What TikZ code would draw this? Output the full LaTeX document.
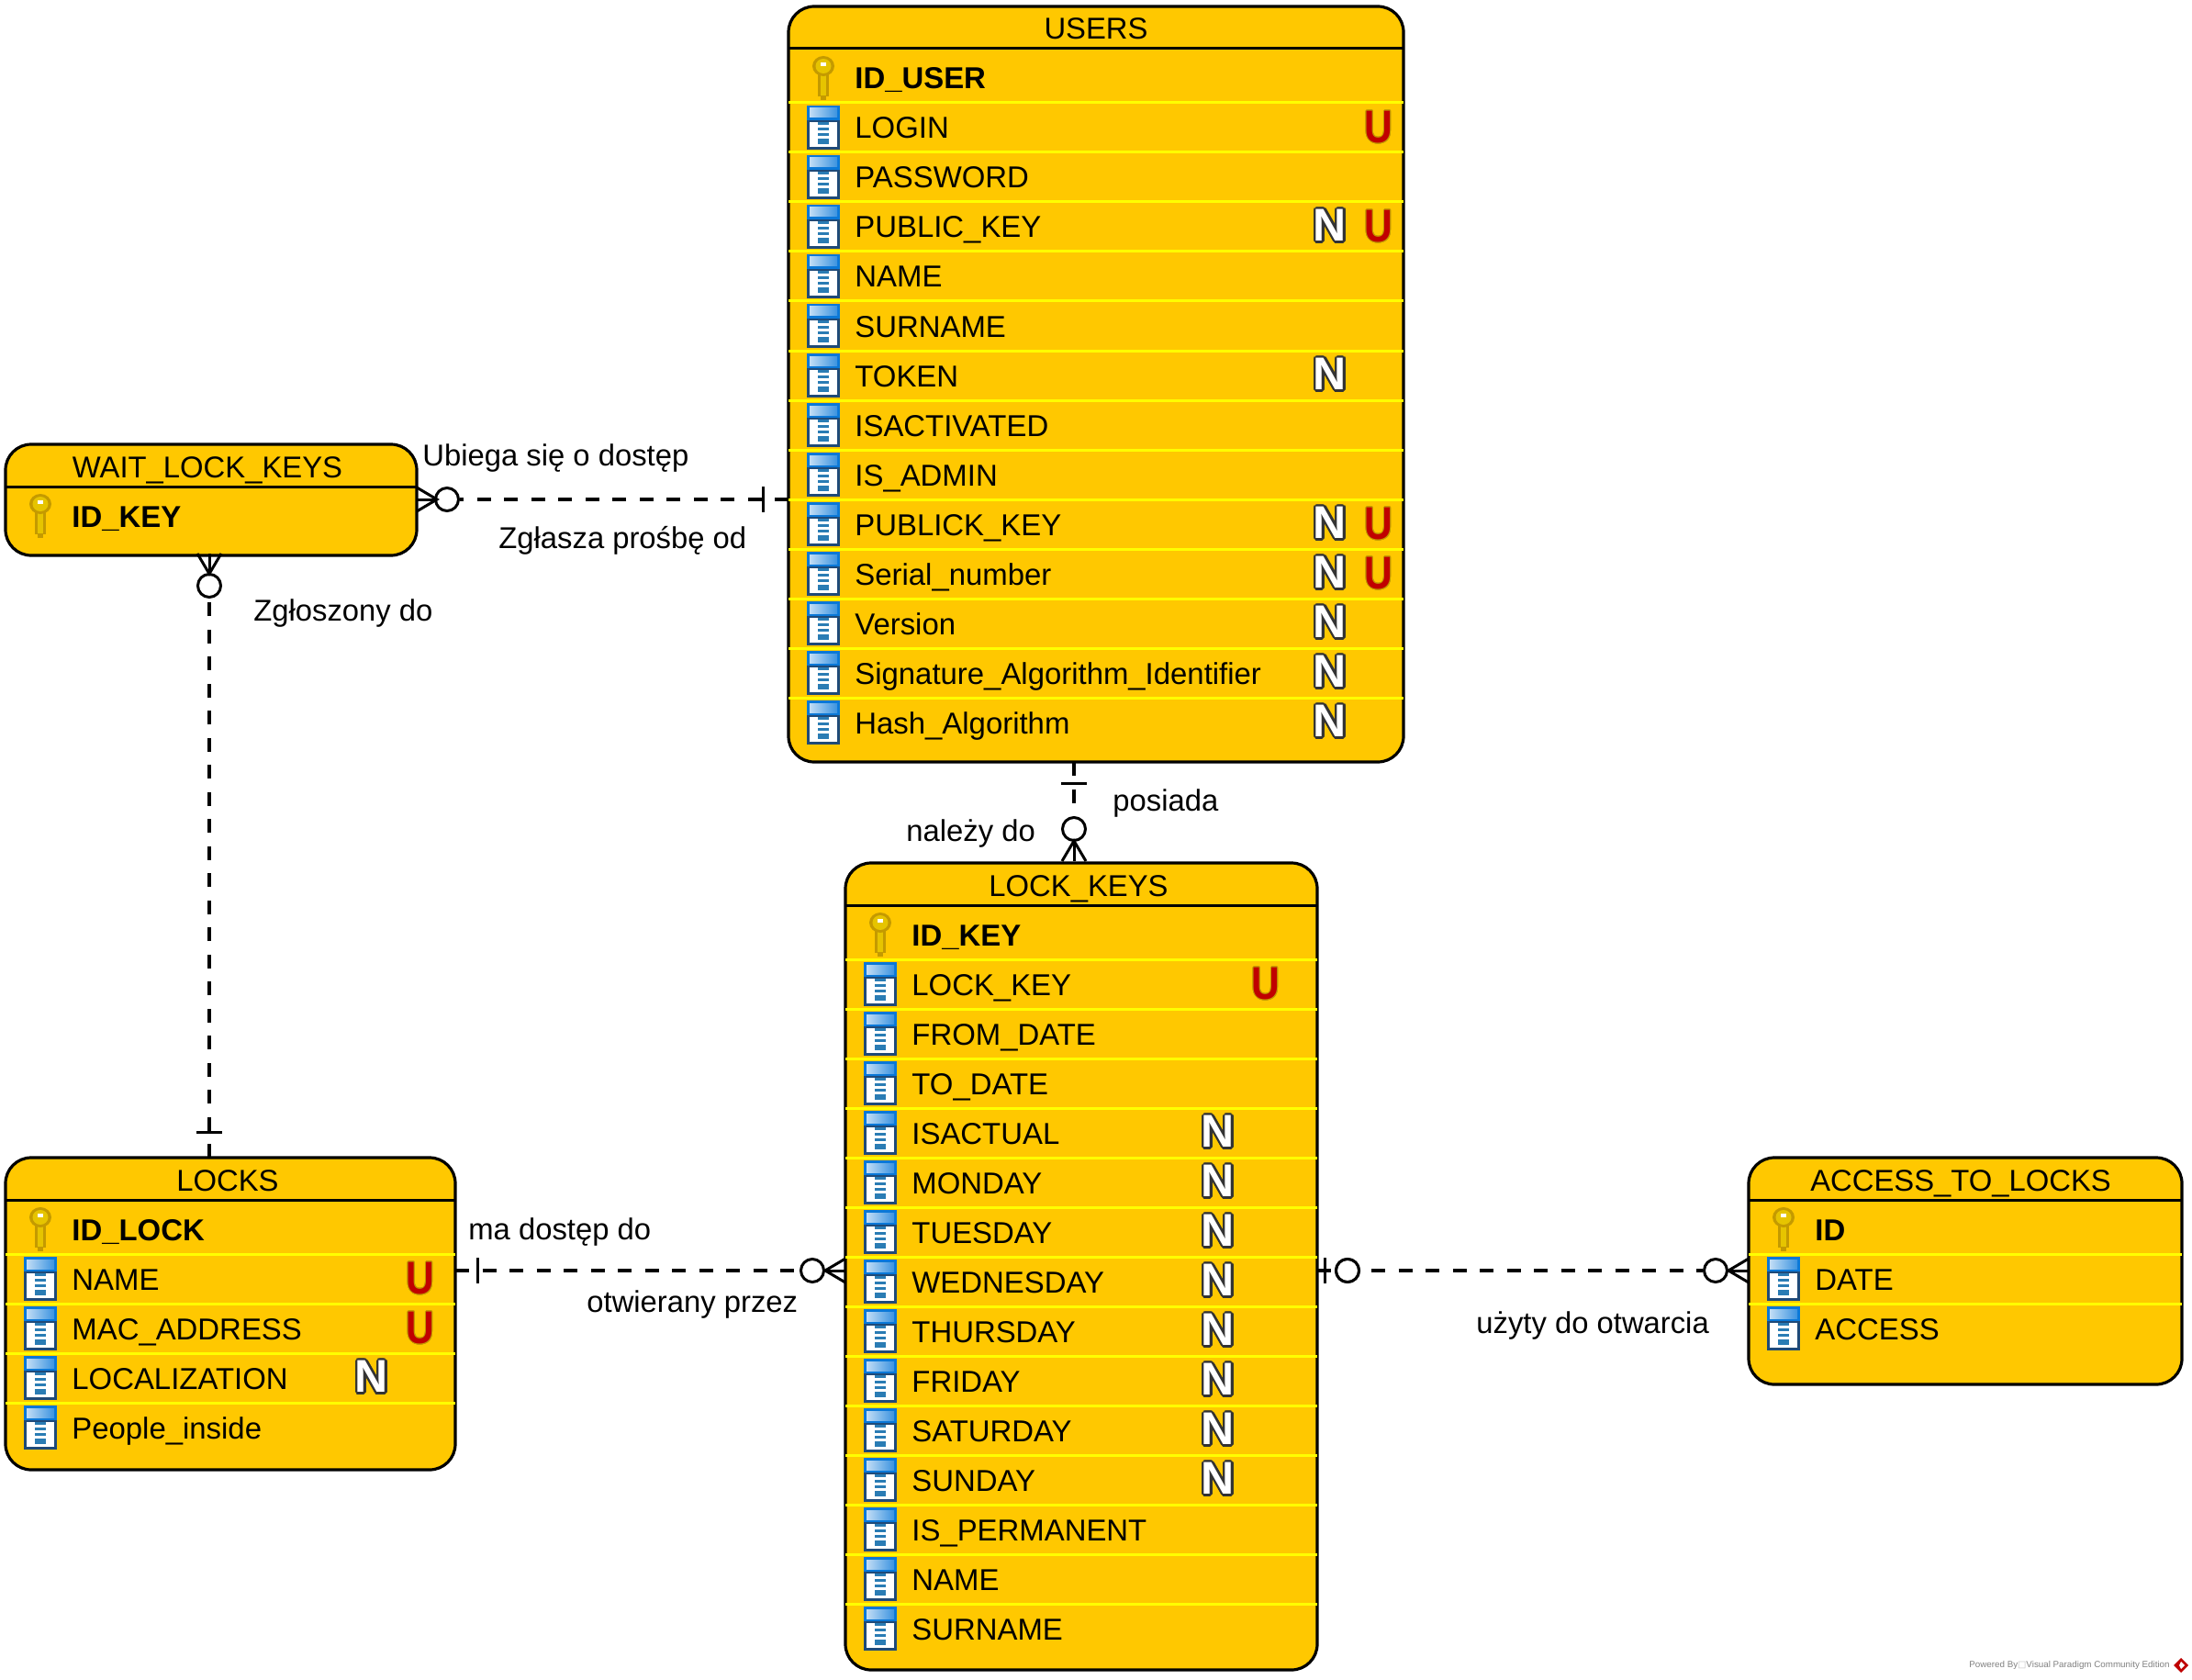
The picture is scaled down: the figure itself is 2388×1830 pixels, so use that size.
\documentclass[tikz,border=0pt]{standalone}
\usepackage{fontspec}
\setmainfont{Liberation Sans}
\newfontfamily\symbfont{DejaVu Sans}
\usepackage[copies]{contour}
\usetikzlibrary{calc}

\definecolor{boxfill}{HTML}{FFC800}
\definecolor{rowline}{HTML}{FFFF00}
\definecolor{colblue}{HTML}{0A78D8}
\definecolor{colnavy}{HTML}{1F4A78}
\definecolor{coldash}{HTML}{2A7CB4}
\definecolor{keygold}{HTML}{E6C400}
\definecolor{keyedge}{HTML}{C49A00}
\definecolor{flagred}{HTML}{C00000}

\newcommand{\nflag}{\contourlength{1.25pt}\contour{black!80}{N}}
\newcommand{\uflag}{\contourlength{.5pt}\scalebox{.85}[1]{\contour{keyedge}{U}}}

\tikzset{
    erbox/.style={draw, line width=1.6pt, fill=boxfill, rounded corners=14pt, inner sep=0pt, outer sep=0pt},
    headline/.style={draw, line width=1.5pt},
    rowsep/.style={draw=rowline, line width=1.5pt},
    titletext/.style={anchor=base, inner sep=0pt, font=\fontsize{16.4pt}{18pt}\selectfont},
    rowtext/.style={anchor=base west, inner sep=0pt, font=\fontsize{16.45pt}{18pt}\selectfont},
    keytext/.style={rowtext, font=\fontsize{16.45pt}{18pt}\selectfont\bfseries},
    reltext/.style={anchor=base west, inner sep=0pt, font=\fontsize{16.4pt}{18pt}\selectfont},
    nmark/.style={inner sep=0pt, text=white, font=\fontsize{25pt}{26pt}\selectfont\bfseries},
    umark/.style={inner sep=0pt, text=flagred, font=\fontsize{25pt}{26pt}\selectfont\bfseries},
    rel/.style={line width=1.6pt, dash pattern=on 7.5pt off 7.25pt},
    zeroring/.style={circle, draw, fill=white, line width=1.5pt, inner sep=0pt, minimum size=12.5pt},
    colicon/.pic={
        \fill[colnavy] (-18,-24) rectangle (18,24);
        \fill[colblue] (-18,-24) rectangle (18,-8);
        \shade[left color=colblue!25, right color=colblue!80] (-15,-21) rectangle (15,-11);
        \fill[white] (-15,-6) rectangle (15,21);
        \fill[coldash] (-6,-6) rectangle (6,-3);
        \fill[coldash] (-6,0) rectangle (6,3);
        \fill[coldash] (-6,6) rectangle (6,9);
        \fill[coldash] (-6,12) rectangle (6,18);
    },
    keyicon/.pic={
        \fill[keyedge] (-6,-6) rectangle (6,20);
        \fill[keyedge] (-3,20) rectangle (3,24);
        \fill[keygold] (-3,-6) rectangle (3,19);
        \fill[keyedge] (0,-13) ellipse [x radius=12, y radius=11];
        \fill[keygold] (0,-13) ellipse [x radius=8.5, y radius=8];
        \fill[white] (-3,-17) rectangle (3,-13);
    },
    crowfoot/.pic={
        \draw[line width=1.5pt] (22,-13) -- (0,0) -- (22,13);
        \draw[line width=1.5pt] (0,0) -- (22,0);
    },
    barmark/.pic={
        \draw[line width=1.5pt] (0,-14) -- (0,14);
    }
}

% table parts: name of the box, then y of the row
\newcommand{\tablehead}[4]{
    \node[titletext] (#1-title) at (#2,#3+36) {#4};
    \draw[headline] (#1.west |- 0,#3+46) -- (#1.east |- 0,#3+46);
}
\newcommand{\keyrow}[3]{
    \pic at ([xshift=19pt]#1.west |- 0,#2) {keyicon};
    \node[keytext] (#1-#2) at ([xshift=36pt]#1.west |- 0,#2+12) {#3};
}
\newcommand{\colrow}[3]{
    \draw[rowsep] (#1.west |- 0,#2-27) -- (#1.east |- 0,#2-27);
    \pic at ([xshift=19pt]#1.west |- 0,#2) {colicon};
    \node[rowtext] (#1-#2) at ([xshift=36pt]#1.west |- 0,#2+12) {#3};
}

\begin{document}
\begin{tikzpicture}[x=.5pt, y=-.5pt]
    \useasboundingbox (0,-1) rectangle (2388,1829);

    % Boxes
    \node[erbox, minimum width=335pt, minimum height=411.5pt] (users) at (1194,417.5) {};
    \node[erbox, minimum width=224pt, minimum height=60.5pt] (wait) at (230,543.5) {};
    \node[erbox, minimum width=257pt, minimum height=439.5pt] (keys) at (1178,1378.5) {};
    \node[erbox, minimum width=245pt, minimum height=170pt] (locks) at (251,1430) {};
    \node[erbox, minimum width=236pt, minimum height=123.5pt] (access) at (2141,1383.5) {};

    % USERS
    \tablehead{users}{1194}{6}{USERS}
    \keyrow{users}{84}{ID\_USER}
    \colrow{users}{138}{LOGIN}
    \colrow{users}{192}{PASSWORD}
    \colrow{users}{246}{PUBLIC\_KEY}
    \colrow{users}{300}{NAME}
    \colrow{users}{354}{SURNAME}
    \colrow{users}{408}{TOKEN}
    \colrow{users}{462}{ISACTIVATED}
    \colrow{users}{516}{IS\_ADMIN}
    \colrow{users}{570}{PUBLICK\_KEY}
    \colrow{users}{624}{Serial\_number}
    \colrow{users}{678}{Version}
    \colrow{users}{732}{Signature\_Algorithm\_Identifier}
    \colrow{users}{786}{Hash\_Algorithm}
    \node[umark] (users-u1) at (1502,138) {\uflag};
    \node[nmark] (users-n1) at (1449,246) {\nflag};
    \node[umark] (users-u2) at (1502,246) {\uflag};
    \node[nmark] (users-n2) at (1449,408) {\nflag};
    \node[nmark] (users-n3) at (1449,570) {\nflag};
    \node[umark] (users-u3) at (1502,570) {\uflag};
    \node[nmark] (users-n4) at (1449,624) {\nflag};
    \node[umark] (users-u4) at (1502,624) {\uflag};
    \node[nmark] (users-n5) at (1449,678) {\nflag};
    \node[nmark] (users-n6) at (1449,732) {\nflag};
    \node[nmark] (users-n7) at (1449,786) {\nflag};

    % WAIT_LOCK_KEYS
    \tablehead{wait}{226}{483}{WAIT\_LOCK\_KEYS}
    \keyrow{wait}{561}{ID\_KEY}

    % LOCK_KEYS
    \tablehead{keys}{1175}{939}{LOCK\_KEYS}
    \keyrow{keys}{1017}{ID\_KEY}
    \colrow{keys}{1071}{LOCK\_KEY}
    \colrow{keys}{1125}{FROM\_DATE}
    \colrow{keys}{1179}{TO\_DATE}
    \colrow{keys}{1233}{ISACTUAL}
    \colrow{keys}{1287}{MONDAY}
    \colrow{keys}{1341}{TUESDAY}
    \colrow{keys}{1395}{WEDNESDAY}
    \colrow{keys}{1449}{THURSDAY}
    \colrow{keys}{1503}{FRIDAY}
    \colrow{keys}{1557}{SATURDAY}
    \colrow{keys}{1611}{SUNDAY}
    \colrow{keys}{1665}{IS\_PERMANENT}
    \colrow{keys}{1719}{NAME}
    \colrow{keys}{1773}{SURNAME}
    \node[umark] (keys-u1) at (1379,1071) {\uflag};
    \node[nmark] (keys-n1) at (1327,1233) {\nflag};
    \node[nmark] (keys-n2) at (1327,1287) {\nflag};
    \node[nmark] (keys-n3) at (1327,1341) {\nflag};
    \node[nmark] (keys-n4) at (1327,1395) {\nflag};
    \node[nmark] (keys-n5) at (1327,1449) {\nflag};
    \node[nmark] (keys-n6) at (1327,1503) {\nflag};
    \node[nmark] (keys-n7) at (1327,1557) {\nflag};
    \node[nmark] (keys-n8) at (1327,1611) {\nflag};

    % LOCKS
    \tablehead{locks}{248}{1260}{LOCKS}
    \keyrow{locks}{1338}{ID\_LOCK}
    \colrow{locks}{1392}{NAME}
    \colrow{locks}{1446}{MAC\_ADDRESS}
    \colrow{locks}{1500}{LOCALIZATION}
    \colrow{locks}{1554}{People\_inside}
    \node[umark] (locks-u1) at (458,1392) {\uflag};
    \node[umark] (locks-u2) at (458,1446) {\uflag};
    \node[nmark] (locks-n1) at (405,1500) {\nflag};

    % ACCESS_TO_LOCKS
    \tablehead{access}{2136}{1260}{ACCESS\_TO\_LOCKS}
    \keyrow{access}{1338}{ID}
    \colrow{access}{1392}{DATE}
    \colrow{access}{1446}{ACCESS}

    % Rings
    \node[zeroring] (ringWaitE) at (487,543) {};
    \node[zeroring] (ringWaitS) at (228,637) {};
    \node[zeroring] (ringKeysN) at (1170,902) {};
    \node[zeroring] (ringKeysW) at (885,1383) {};
    \node[zeroring] (ringKeysE) at (1468,1383) {};
    \node[zeroring] (ringAccess) at (1869,1383) {};

    % Edges
    \draw[rel] (users.west |- ringWaitE) -- (ringWaitE);
    \draw[rel] (locks.north -| ringWaitS) -- (ringWaitS);
    \draw[rel] (users.south -| ringKeysN) -- (ringKeysN);
    \draw[rel] (locks.east |- ringKeysW) -- (ringKeysW);
    \draw[rel] (keys.east |- ringKeysE) -- (ringAccess);
    \node[zeroring] at (ringKeysE) {};

    % Edge ends
    \pic[rotate=180] at (476,543) {crowfoot};
    \pic[rotate=90] at (228,624) {crowfoot};
    \pic[rotate=-90] at (1170,915) {crowfoot};
    \pic at (899,1383) {crowfoot};
    \pic at (1883,1383) {crowfoot};
    \pic at (831,543) {barmark};
    \pic[rotate=90] at (228,1232) {barmark};
    \pic[rotate=90] at (1170,852) {barmark};
    \pic at (520,1383) {barmark};
    \pic at (1443,1383) {barmark};

    % Edge labels
    \node[reltext] (lblWaitA) at (460,506) {Ubiega się o dostęp};
    \node[reltext] (lblWaitB) at (543,596) {Zgłasza prośbę od};
    \node[reltext] (lblWaitC) at (276,675) {Zgłoszony do};
    \node[reltext] (lblKeysA) at (1212,882) {posiada};
    \node[reltext] (lblKeysB) at (987,915) {należy do};
    \node[reltext] (lblLockA) at (510,1349) {ma dostęp do};
    \node[reltext] (lblLockB) at (639,1428) {otwierany przez};
    \node[reltext] (lblAccess) at (1608,1451) {użyty do otwarcia};

    % Footer
    \node[anchor=east, inner sep=0pt, text=black!50, font=\fontsize{4.9pt}{6pt}\selectfont] (poweredBy) at (2364,1813)
        {Powered By{\symbfont\textcolor{black!25}{□}}Visual Paradigm Community Edition};
    \fill[red!75!black] (2376,1805) -- (2384,1813) -- (2376,1821) -- (2368,1813) -- cycle;
    \fill[white] (2376,1809) -- (2380,1813) -- (2376,1817) -- (2374,1813) -- cycle;
\end{tikzpicture}
\end{document}
